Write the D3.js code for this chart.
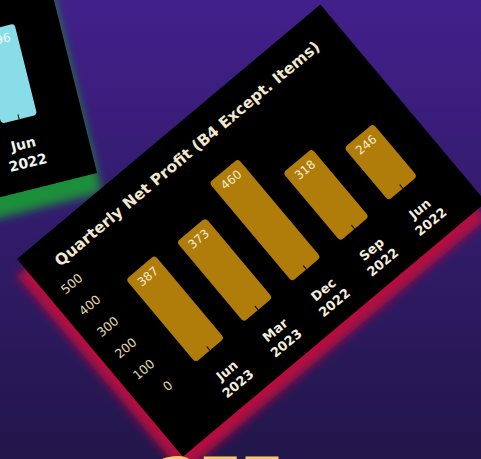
<!DOCTYPE html>
<html>
<head>
<meta charset="utf-8">
<script src="https://cdn.jsdelivr.net/npm/d3@7"></script>
<style>
  body { margin: 0; background: #2e1a66; }
  svg { display: block; }
</style>
</head>
<body>
<svg id="chart"></svg>
<script>
// main card data
const categories = ["Jun 2023", "Mar 2023", "Dec 2022", "Sep 2022", "Jun 2022"];
const profit = [387, 373, 460, 318, 246];
const yTicks = [0, 100, 200, 300, 400, 500];

// card peeking in at the top left
const sideCategories = ["Jun 2022"];
const sideValues = [296];

const width = 481, height = 459;
const font = "'DejaVu Sans', Verdana, sans-serif";

const svg = d3.select("#chart").attr("width", width).attr("height", height);
const defs = svg.append("defs");

const bg = defs.append("linearGradient").attr("id", "bg")
  .attr("x1", 0).attr("y1", 0).attr("x2", 0).attr("y2", 1);
bg.append("stop").attr("offset", "0%").attr("stop-color", "#42208b");
bg.append("stop").attr("offset", "100%").attr("stop-color", "#22164a");

defs.append("filter").attr("id", "glow")
  .attr("x", "-20%").attr("y", "-20%").attr("width", "140%").attr("height", "140%")
  .append("feGaussianBlur").attr("stdDeviation", 5);

svg.append("rect").attr("width", width).attr("height", height).attr("fill", "url(#bg)");

// ---- side card (cyan) ----
const side = svg.append("g").attr("transform", "translate(97,173) rotate(-14)");

side.append("rect")
  .attr("x", -300).attr("y", -300 + 20).attr("width", 300).attr("height", 300)
  .attr("fill", "#1d8f3b").attr("filter", "url(#glow)");
side.append("rect")
  .attr("x", -300).attr("y", -300).attr("width", 300).attr("height", 300)
  .attr("fill", "#000");

const sx = d3.scaleBand().domain(sideCategories).range([-81, -44]);
const sy = d3.scaleLinear().domain([0, 400]).range([-71, -198]);

side.selectAll(".sbar").data(sideValues).join("rect")
  .attr("x", (d, i) => sx(sideCategories[i]))
  .attr("y", d => sy(d))
  .attr("width", sx.bandwidth())
  .attr("height", d => sy(0) - sy(d))
  .attr("rx", 4)
  .attr("fill", "#88dde8");

side.selectAll(".slabel").data(sideValues).join("text")
  .attr("x", (d, i) => sx(sideCategories[i]) + sx.bandwidth() / 2)
  .attr("y", d => sy(d) + 16)
  .attr("text-anchor", "middle")
  .attr("font-family", font).attr("font-size", 12)
  .attr("fill", "#f2fafa")
  .text(d => d);

const sideAxis = side.append("g")
  .attr("transform", `translate(0,${sy(0)})`)
  .call(d3.axisBottom(sx).tickSize(-5));
sideAxis.select(".domain").remove();
sideAxis.selectAll(".tick line").attr("stroke", "#000");
sideAxis.selectAll(".tick text").each(function (d) {
  const t = d3.select(this).text("").attr("y", 0).attr("dy", null)
    .attr("font-family", font).attr("font-size", 14).attr("font-weight", "bold")
    .attr("fill", "#eef6f4");
  d.split(" ").forEach((w, i) => t.append("tspan").attr("x", -2).attr("y", 30 + i * 19).text(w));
});

// ---- main card ----
const card = svg.append("g").attr("transform", "translate(17,259) rotate(-40)");
const cardW = 396, cardH = 258;

card.append("rect")
  .attr("x", -11).attr("y", 13).attr("width", cardW).attr("height", cardH)
  .attr("fill", "#b5103f").attr("filter", "url(#glow)");
card.append("rect")
  .attr("width", cardW).attr("height", cardH).attr("fill", "#000");

card.append("text")
  .attr("x", 28).attr("y", 34)
  .attr("font-family", font).attr("font-size", 15.5).attr("font-weight", "bold")
  .attr("fill", "#f2e8d0")
  .text("Quarterly Net Profit (B4 Except. Items)");

const x = d3.scaleBand().domain(categories).range([45, 385]).padding(0.4);
const y = d3.scaleLinear().domain([0, 500]).range([194, 54]);

const yAxis = card.append("g")
  .attr("transform", "translate(38,0)")
  .call(d3.axisLeft(y).tickValues(yTicks).tickSize(0).tickPadding(0));
yAxis.select(".domain").remove();
yAxis.selectAll(".tick text")
  .attr("font-family", font).attr("font-size", 12.5)
  .attr("fill", "#e6d8b4");

card.append("g")
  .selectAll("rect")
  .data(profit)
  .join("rect")
  .attr("x", (d, i) => x(categories[i]))
  .attr("y", d => y(d))
  .attr("width", x.bandwidth())
  .attr("height", d => y(0) - y(d))
  .attr("rx", 4)
  .attr("fill", "#b07d0b");

card.append("g")
  .selectAll("text")
  .data(profit)
  .join("text")
  .attr("x", (d, i) => x(categories[i]) + x.bandwidth() / 2)
  .attr("y", d => y(d) + 16)
  .attr("text-anchor", "middle")
  .attr("font-family", font).attr("font-size", 12)
  .attr("fill", "#f6ecd2")
  .text(d => d);

const xAxis = card.append("g")
  .attr("transform", `translate(0,${y(0)})`)
  .call(d3.axisBottom(x).tickSize(-5));
xAxis.select(".domain").remove();
xAxis.selectAll(".tick line").attr("stroke", "#000");
xAxis.selectAll(".tick text").each(function (d) {
  const t = d3.select(this).text("").attr("y", 0).attr("dy", null)
    .attr("font-family", font).attr("font-size", 13).attr("font-weight", "bold")
    .attr("fill", "#f5eedf");
  d.split(" ").forEach((w, i) => t.append("tspan").attr("x", 0).attr("y", 31 + i * 17).text(w));
});

// heading peeking from below
svg.append("text")
  .attr("x", 158).attr("y", 501)
  .attr("font-family", font).attr("font-size", 60).attr("font-weight", "bold")
  .attr("fill", "#f7c873")
  .text("277");
</script>
</body>
</html>
